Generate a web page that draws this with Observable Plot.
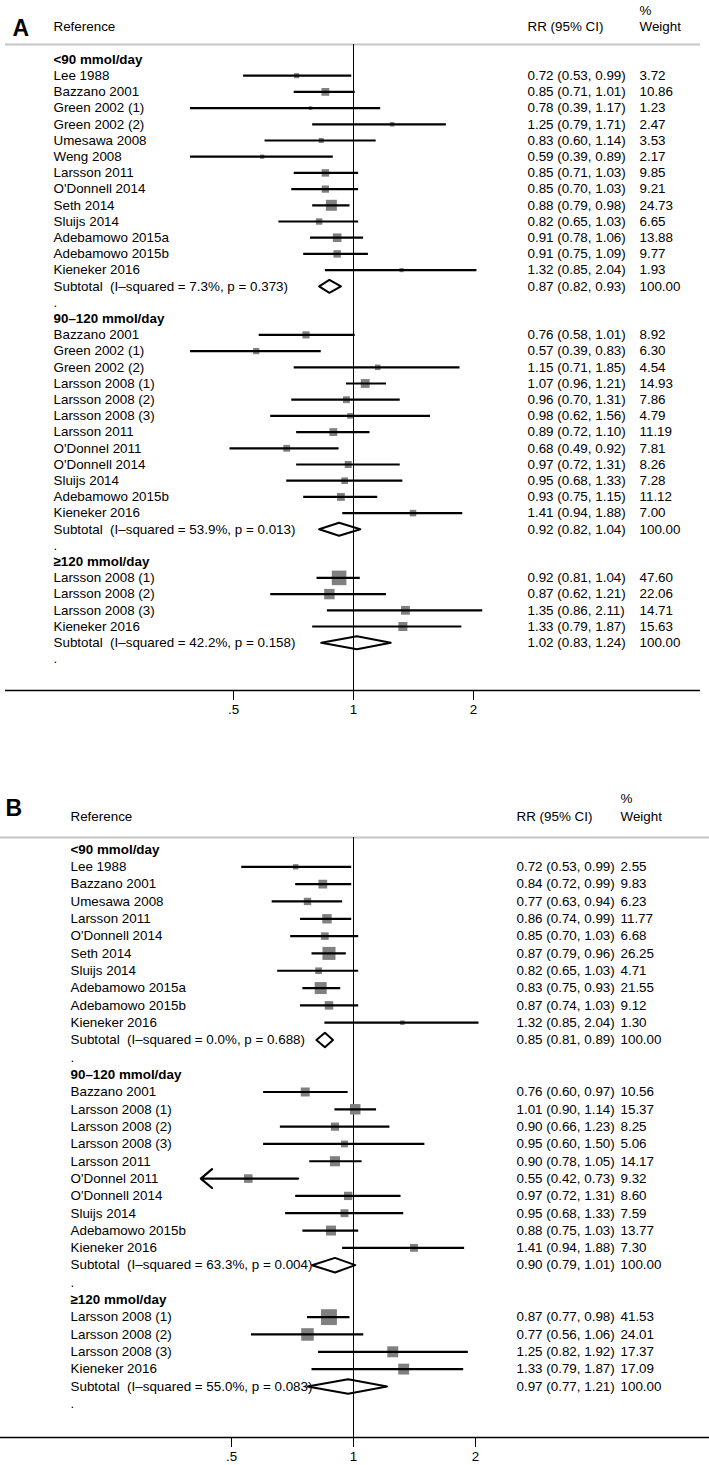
<!DOCTYPE html>
<html>
<head>
<meta charset="utf-8">
<script src="https://cdn.jsdelivr.net/npm/d3@7"></script>
<script src="https://cdn.jsdelivr.net/npm/@observablehq/plot@0.6"></script>
<style>
  html, body { margin: 0; padding: 0; background: white; }
  #chart svg { display: block; }
</style>
</head>
<body>
<div id="chart"></div>
<script>
// ---------- DATA ----------
const groupLabels = ["<90 mmol/day", "90–120 mmol/day", "≥120 mmol/day"];
const headerRef = "Reference";
const headerRR = "RR (95% CI)";
const headerPct = "%";
const headerWeight = "Weight";
const tickValues = [0.5, 1, 2];
const tickLabels = [".5", "1", "2"];

// Panel A studies: [name, RR, lower, upper, weight]
const A_lt90 = [
  ["Lee 1988", 0.72, 0.53, 0.99, 3.72],
  ["Bazzano 2001", 0.85, 0.71, 1.01, 10.86],
  ["Green 2002 (1)", 0.78, 0.39, 1.17, 1.23],
  ["Green 2002 (2)", 1.25, 0.79, 1.71, 2.47],
  ["Umesawa 2008", 0.83, 0.60, 1.14, 3.53],
  ["Weng 2008", 0.59, 0.39, 0.89, 2.17],
  ["Larsson 2011", 0.85, 0.71, 1.03, 9.85],
  ["O'Donnell 2014", 0.85, 0.70, 1.03, 9.21],
  ["Seth 2014", 0.88, 0.79, 0.98, 24.73],
  ["Sluijs 2014", 0.82, 0.65, 1.03, 6.65],
  ["Adebamowo 2015a", 0.91, 0.78, 1.06, 13.88],
  ["Adebamowo 2015b", 0.91, 0.75, 1.09, 9.77],
  ["Kieneker 2016", 1.32, 0.85, 2.04, 1.93]
];
const A_90to120 = [
  ["Bazzano 2001", 0.76, 0.58, 1.01, 8.92],
  ["Green 2002 (1)", 0.57, 0.39, 0.83, 6.30],
  ["Green 2002 (2)", 1.15, 0.71, 1.85, 4.54],
  ["Larsson 2008 (1)", 1.07, 0.96, 1.21, 14.93],
  ["Larsson 2008 (2)", 0.96, 0.70, 1.31, 7.86],
  ["Larsson 2008 (3)", 0.98, 0.62, 1.56, 4.79],
  ["Larsson 2011", 0.89, 0.72, 1.10, 11.19],
  ["O'Donnel 2011", 0.68, 0.49, 0.92, 7.81],
  ["O'Donnell 2014", 0.97, 0.72, 1.31, 8.26],
  ["Sluijs 2014", 0.95, 0.68, 1.33, 7.28],
  ["Adebamowo 2015b", 0.93, 0.75, 1.15, 11.12],
  ["Kieneker 2016", 1.41, 0.94, 1.88, 7.00]
];
const A_ge120 = [
  ["Larsson 2008 (1)", 0.92, 0.81, 1.04, 47.60],
  ["Larsson 2008 (2)", 0.87, 0.62, 1.21, 22.06],
  ["Larsson 2008 (3)", 1.35, 0.86, 2.11, 14.71],
  ["Kieneker 2016", 1.33, 0.79, 1.87, 15.63]
];
// Subtotals: [I-squared, p, RR, lower, upper, weight]
const A_subtotals = [
  ["7.3%", "0.373", 0.87, 0.82, 0.93, 100.00],
  ["53.9%", "0.013", 0.92, 0.82, 1.04, 100.00],
  ["42.2%", "0.158", 1.02, 0.83, 1.24, 100.00]
];

// Panel B
const B_lt90 = [
  ["Lee 1988", 0.72, 0.53, 0.99, 2.55],
  ["Bazzano 2001", 0.84, 0.72, 0.99, 9.83],
  ["Umesawa 2008", 0.77, 0.63, 0.94, 6.23],
  ["Larsson 2011", 0.86, 0.74, 0.99, 11.77],
  ["O'Donnell 2014", 0.85, 0.70, 1.03, 6.68],
  ["Seth 2014", 0.87, 0.79, 0.96, 26.25],
  ["Sluijs 2014", 0.82, 0.65, 1.03, 4.71],
  ["Adebamowo 2015a", 0.83, 0.75, 0.93, 21.55],
  ["Adebamowo 2015b", 0.87, 0.74, 1.03, 9.12],
  ["Kieneker 2016", 1.32, 0.85, 2.04, 1.30]
];
const B_90to120 = [
  ["Bazzano 2001", 0.76, 0.60, 0.97, 10.56],
  ["Larsson 2008 (1)", 1.01, 0.90, 1.14, 15.37],
  ["Larsson 2008 (2)", 0.90, 0.66, 1.23, 8.25],
  ["Larsson 2008 (3)", 0.95, 0.60, 1.50, 5.06],
  ["Larsson 2011", 0.90, 0.78, 1.05, 14.17],
  ["O'Donnel 2011", 0.55, 0.42, 0.73, 9.32],
  ["O'Donnell 2014", 0.97, 0.72, 1.31, 8.60],
  ["Sluijs 2014", 0.95, 0.68, 1.33, 7.59],
  ["Adebamowo 2015b", 0.88, 0.75, 1.03, 13.77],
  ["Kieneker 2016", 1.41, 0.94, 1.88, 7.30]
];
const B_ge120 = [
  ["Larsson 2008 (1)", 0.87, 0.77, 0.98, 41.53],
  ["Larsson 2008 (2)", 0.77, 0.56, 1.06, 24.01],
  ["Larsson 2008 (3)", 1.25, 0.82, 1.92, 17.37],
  ["Kieneker 2016", 1.33, 0.79, 1.87, 17.09]
];
const B_subtotals = [
  ["0.0%", "0.688", 0.85, 0.81, 0.89, 100.00],
  ["63.3%", "0.004", 0.90, 0.79, 1.01, 100.00],
  ["55.0%", "0.083", 0.97, 0.77, 1.21, 100.00]
];
// Rows whose CI is drawn as an arrow (group index, study name)
const B_arrowRows = [[1, "O'Donnel 2011"]];

// ---------- BUILD ----------
const fmt = v => v.toFixed(2);
const FONT = "'Liberation Sans', Arial, Helvetica, sans-serif";
const FS = 13.4;

function buildRows(groups, subtotals, arrowRows) {
  const rows = [];
  let i = 0;
  groups.forEach((g, gi) => {
    rows.push({type: "header", label: groupLabels[gi], row: i++});
    g.forEach(([name, rr, lo, hi, w]) => {
      const arrow = arrowRows.some(([ag, an]) => ag === gi && an === name);
      rows.push({type: "study", label: name, rr, lo, hi, w, arrow, row: i++});
    });
    const [i2, p, rr, lo, hi, w] = subtotals[gi];
    rows.push({type: "subtotal", label: `Subtotal\u00a0 (I–squared = ${i2}, p = ${p})`, rr, lo, hi, w, row: i++});
    rows.push({type: "blank", label: ".", row: i++});
  });
  return rows;
}

function panel(cfg) {
  const rows = buildRows(cfg.groups, cfg.subtotals, cfg.arrowRows || []);
  const studies = rows.filter(d => d.type === "study");
  const subs = rows.filter(d => d.type === "subtotal");
  const headers = rows.filter(d => d.type === "header");
  const plain = rows.filter(d => d.type !== "header");
  const numeric = rows.filter(d => d.type === "study" || d.type === "subtotal");
  const diamond = subs.flatMap(d => [
    {x: d.lo, y: d.row, z: d.row},
    {x: d.rr, y: d.row - cfg.diamondHalf, z: d.row},
    {x: d.hi, y: d.row, z: d.row},
    {x: d.rr, y: d.row + cfg.diamondHalf, z: d.row},
    {x: d.lo, y: d.row, z: d.row}
  ]);
  const ml = cfg.marginLeft;
  const txt = {frameAnchor: "left", textAnchor: "start", fontSize: FS, fill: "black"};
  const head = {frameAnchor: "top-left", lineAnchor: "bottom", textAnchor: "start", fontSize: FS, fill: "black"};
  return Plot.plot({
    width: 709,
    height: cfg.height,
    marginLeft: ml,
    marginRight: cfg.marginRight,
    marginTop: cfg.marginTop,
    marginBottom: cfg.marginBottom,
    style: {fontFamily: FONT, fontSize: FS + "px", background: "white", color: "black"},
    x: {type: "log", domain: cfg.xDomain},
    y: {domain: [cfg.yAxis, cfg.yTop], axis: null},
    r: {type: "identity"},
    marks: [
      // header rule (grey) and axis rule
      Plot.ruleY([cfg.yTop], {stroke: "#c6c6c6", strokeWidth: 2}),
      Plot.ruleY([cfg.yAxis], {stroke: "black", strokeWidth: 1.5}),
      // line of no effect
      Plot.ruleX([1], {stroke: "black", strokeWidth: 1}),
      // study boxes
      Plot.dot(studies, {
        x: "rr", y: "row", symbol: "square", fill: "#808080",
        r: d => (cfg.boxBase + cfg.boxK * Math.sqrt(d.w)) / Math.sqrt(Math.PI)
      }),
      // CIs
      Plot.ruleY(studies.filter(d => !d.arrow), {y: "row", x1: "lo", x2: "hi", stroke: "black", strokeWidth: 2.2}),
      Plot.arrow(studies.filter(d => d.arrow), {
        x1: "hi", x2: "lo", y1: "row", y2: "row", stroke: "black",
        strokeWidth: 2.2, headLength: 10, headAngle: 80
      }),
      // subtotal diamonds
      Plot.line(diamond, {x: "x", y: "y", z: "z", stroke: "black", strokeWidth: 2, curve: "linear"}),
      // left labels
      Plot.text(headers, {...txt, y: "row", text: "label", dx: cfg.labelX - ml, fontWeight: "bold"}),
      Plot.text(plain, {...txt, y: "row", text: "label", dx: cfg.labelX - ml}),
      // right columns
      Plot.text(numeric, {...txt, y: "row", text: d => `${fmt(d.rr)} (${fmt(d.lo)}, ${fmt(d.hi)})`, dx: cfg.valX - ml}),
      Plot.text(numeric, {...txt, y: "row", text: d => fmt(d.w), dx: cfg.wX - ml}),
      // panel letter and column headers
      Plot.text([cfg.letter], {...head, dx: cfg.letterX - ml, dy: cfg.letterBase - cfg.marginTop, fontSize: 23, fontWeight: "bold"}),
      Plot.text([headerRef], {...head, dx: cfg.labelX - ml, dy: cfg.headBase - cfg.marginTop}),
      Plot.text([headerRR], {...head, dx: cfg.valX - ml, dy: cfg.headBase - cfg.marginTop}),
      Plot.text([headerWeight], {...head, dx: cfg.wX - ml, dy: cfg.headBase - cfg.marginTop}),
      Plot.text([headerPct], {...head, dx: cfg.wX - ml, dy: cfg.pctBase - cfg.marginTop}),
      // x axis
      Plot.axisX({
        anchor: "bottom", ticks: tickValues,
        tickFormat: d => tickLabels[tickValues.indexOf(d)],
        tickSize: 10, tickPadding: 4, fontSize: FS, label: null, stroke: "black"
      })
    ]
  });
}

// Panel A: line of no effect at x=353 px, ~120 px per doubling
const chartA = panel({
  letter: "A",
  groups: [A_lt90, A_90to120, A_ge120],
  subtotals: A_subtotals,
  height: 735, marginTop: 44, marginBottom: 45, marginLeft: 5, marginRight: 9,
  xDomain: [Math.pow(2, -348 / 120), Math.pow(2, 347 / 120)],
  yTop: -15 / 16.2, yAxis: 631 / 16.2,
  diamondHalf: 0.4, boxBase: 1.5, boxK: 1.9,
  labelX: 53, valX: 527, wX: 639, letterX: 12,
  letterBase: 35, headBase: 30, pctBase: 14
});

// Panel B
const chartB = panel({
  letter: "B",
  groups: [B_lt90, B_90to120, B_ge120],
  subtotals: B_subtotals,
  arrowRows: B_arrowRows,
  height: 730, marginTop: 102, marginBottom: 28, marginLeft: 0, marginRight: 0,
  xDomain: [Math.pow(2, -353 / 122), Math.pow(2, 356 / 122)],
  yTop: -12 / 17.32, yAxis: 588 / 17.32,
  diamondHalf: 0.42, boxBase: 2, boxK: 2.15,
  labelX: 70, valX: 516, wX: 620, letterX: 5,
  letterBase: 80, headBase: 85, pctBase: 67
});

const root = document.getElementById("chart");
root.appendChild(chartA);
root.appendChild(chartB);
</script>
</body>
</html>
